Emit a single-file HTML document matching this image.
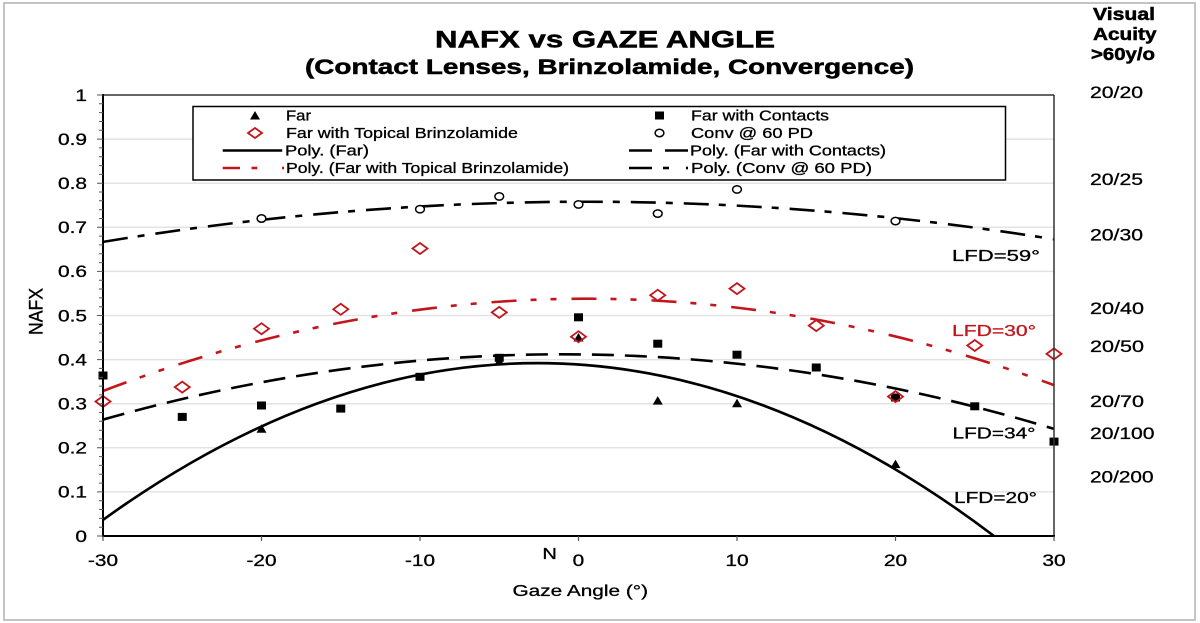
<!DOCTYPE html>
<html>
<head>
<meta charset="utf-8">
<style>
  html, body { margin:0; padding:0; background:#fff; }
  svg { display:block; }
  text { font-family: "Liberation Sans", Arial, sans-serif; fill:#000; stroke:#000; stroke-width:0.3px; }
  text.b { stroke-width:0.5px; }
  text.red { fill:#c3161c; stroke:#c3161c; }
</style>
</head>
<body>
<svg width="1200" height="623" viewBox="0 0 1200 623" xmlns="http://www.w3.org/2000/svg">
  <rect x="0" y="0" width="1200" height="623" fill="#fff"/>
  <!-- outer frame -->
  <rect x="4" y="3" width="1191" height="617" fill="none" stroke="#c4c4c4" stroke-width="2"/>

  <!-- Title -->
  <text class="b" x="435" y="47.5" font-size="24" font-weight="bold" textLength="340" lengthAdjust="spacingAndGlyphs">NAFX vs GAZE ANGLE</text>
  <text class="b" x="305" y="74" font-size="21.5" font-weight="bold" textLength="609" lengthAdjust="spacingAndGlyphs">(Contact Lenses, Brinzolamide, Convergence)</text>

  <!-- Visual acuity header -->
  <text class="b" x="1093" y="20" font-size="17.5" font-weight="bold" textLength="62" lengthAdjust="spacingAndGlyphs">Visual</text>
  <text class="b" x="1093" y="40" font-size="17.5" font-weight="bold" textLength="63.5" lengthAdjust="spacingAndGlyphs">Acuity</text>
  <text class="b" x="1091" y="60" font-size="17.5" font-weight="bold" textLength="64" lengthAdjust="spacingAndGlyphs">&gt;60y/o</text>

  <!-- right acuity labels -->
  <g font-size="17">
    <text x="1090" y="98" textLength="53" lengthAdjust="spacingAndGlyphs">20/20</text>
    <text x="1090" y="185" textLength="53" lengthAdjust="spacingAndGlyphs">20/25</text>
    <text x="1090" y="240.5" textLength="53" lengthAdjust="spacingAndGlyphs">20/30</text>
    <text x="1090" y="314" textLength="54" lengthAdjust="spacingAndGlyphs">20/40</text>
    <text x="1090" y="352" textLength="54" lengthAdjust="spacingAndGlyphs">20/50</text>
    <text x="1090" y="407" textLength="54" lengthAdjust="spacingAndGlyphs">20/70</text>
    <text x="1090" y="439" textLength="64.5" lengthAdjust="spacingAndGlyphs">20/100</text>
    <text x="1090" y="482.5" textLength="63.5" lengthAdjust="spacingAndGlyphs">20/200</text>
  </g>

  <!-- gridlines -->
  <g stroke="#e3e3e3" stroke-width="1.5">
    <line x1="103" x2="1054" y1="491.9" y2="491.9"/>
    <line x1="103" x2="1054" y1="447.8" y2="447.8"/>
    <line x1="103" x2="1054" y1="403.7" y2="403.7"/>
    <line x1="103" x2="1054" y1="359.6" y2="359.6"/>
    <line x1="103" x2="1054" y1="315.5" y2="315.5"/>
    <line x1="103" x2="1054" y1="271.4" y2="271.4"/>
    <line x1="103" x2="1054" y1="227.3" y2="227.3"/>
    <line x1="103" x2="1054" y1="183.2" y2="183.2"/>
    <line x1="103" x2="1054" y1="139.1" y2="139.1"/>
  </g>

  <defs>
    <clipPath id="plot"><rect x="103" y="95" width="951" height="441"/></clipPath>
  </defs>

  <!-- trend curves -->
  <g clip-path="url(#plot)" fill="none" stroke-width="2.6">
    <path d="M103,241.9 Q578.5,162.9 1054,239.3" stroke="#000" stroke-dasharray="25 10 7 11"/>
    <path d="M103,391 Q578.5,209.4 1054,385.1" stroke="#c3161c" stroke-dasharray="25 14 6 14 6 15"/>
    <path d="M103,419.6 Q578.5,284.5 1054,428.9" stroke="#000" stroke-dasharray="22 11"/>
    <path d="M103,519.9 Q548.5,198.5 994,536" stroke="#000"/>
  </g>

  <!-- Far with Contacts squares -->
  <g fill="#000">
    <rect x="98.5" y="371.5" width="9" height="8"/>
    <rect x="177.75" y="412.9" width="9" height="8"/>
    <rect x="257" y="401.5" width="9" height="8"/>
    <rect x="336.25" y="404.6" width="9" height="8"/>
    <rect x="415.5" y="372.8" width="9" height="8"/>
    <rect x="494.75" y="353.8" width="9" height="8"/>
    <rect x="574" y="313.3" width="9" height="8"/>
    <rect x="653.25" y="339.7" width="9" height="8"/>
    <rect x="732.5" y="350.7" width="9" height="8"/>
    <rect x="811.75" y="363.5" width="9" height="8"/>
    <rect x="891" y="393.5" width="9" height="8"/>
    <rect x="970.25" y="402.3" width="9" height="8"/>
    <rect x="1049.5" y="437.6" width="9" height="8"/>
  </g>

  <!-- Far triangles -->
  <g fill="#000">
    <polygon points="256.5,432.8 266.5,432.8 261.5,424.3"/>
    <polygon points="494.25,365.4 504.25,365.4 499.25,356.9"/>
    <polygon points="573.5,341.5 583.5,341.5 578.5,333"/>
    <polygon points="652.75,404.6 662.75,404.6 657.75,396.1"/>
    <polygon points="732,407.3 742,407.3 737,398.8"/>
    <polygon points="890.5,468.1 900.5,468.1 895.5,459.6"/>
  </g>

  <!-- Brinzolamide diamonds -->
  <g fill="none" stroke="#c3161c" stroke-width="1.8">
    <polygon points="95.5,401.5 103,396 110.5,401.5 103,407"/>
    <polygon points="174.75,387.1 182.25,381.6 189.75,387.1 182.25,392.6"/>
    <polygon points="254,328.7 261.5,323.2 269,328.7 261.5,334.2"/>
    <polygon points="333.25,309.3 340.75,303.8 348.25,309.3 340.75,314.8"/>
    <polygon points="412.5,248.5 420,243 427.5,248.5 420,254"/>
    <polygon points="491.75,312.4 499.25,306.9 506.75,312.4 499.25,317.9"/>
    <polygon points="571,336.7 578.5,331.2 586,336.7 578.5,342.2"/>
    <polygon points="650.25,295.2 657.75,289.7 665.25,295.2 657.75,300.7"/>
    <polygon points="729.5,288.6 737,283.1 744.5,288.6 737,294.1"/>
    <polygon points="808.75,325.6 816.25,320.1 823.75,325.6 816.25,331.1"/>
    <polygon points="888,396.6 895.5,391.1 903,396.6 895.5,402.1"/>
    <polygon points="967.25,345.5 974.75,340 982.25,345.5 974.75,351"/>
    <polygon points="1046.5,353.9 1054,348.4 1061.5,353.9 1054,359.4"/>
  </g>

  <!-- Conv circles -->
  <g fill="#fff" stroke="#000" stroke-width="1.5">
    <ellipse cx="261.5" cy="218.5" rx="4.4" ry="3.7"/>
    <ellipse cx="420" cy="209.2" rx="4.4" ry="3.7"/>
    <ellipse cx="499.25" cy="196.4" rx="4.4" ry="3.7"/>
    <ellipse cx="578.5" cy="204.4" rx="4.4" ry="3.7"/>
    <ellipse cx="657.75" cy="213.6" rx="4.4" ry="3.7"/>
    <ellipse cx="737" cy="189.4" rx="4.4" ry="3.7"/>
    <ellipse cx="895.5" cy="221.1" rx="4.4" ry="3.7"/>
  </g>

  <!-- LFD labels -->
  <g font-size="16">
    <text x="952" y="261" textLength="88" lengthAdjust="spacingAndGlyphs">LFD=59°</text>
    <text class="red" x="952" y="336" textLength="84" lengthAdjust="spacingAndGlyphs">LFD=30°</text>
    <text x="952.5" y="438.5" textLength="83" lengthAdjust="spacingAndGlyphs">LFD=34°</text>
    <text x="954" y="503" textLength="83" lengthAdjust="spacingAndGlyphs">LFD=20°</text>
  </g>

  <!-- Legend -->
  <rect x="193" y="106.5" width="812.5" height="73.5" fill="#fff" stroke="#000" stroke-width="1.5"/>
  <g font-size="14.5">
    <polygon points="250,119.5 260,119.5 255,111" fill="#000"/>
    <text x="286" y="120.5" textLength="25" lengthAdjust="spacingAndGlyphs">Far</text>
    <polygon points="248,133 255,128 262,133 255,138" fill="none" stroke="#c3161c" stroke-width="1.8"/>
    <text x="286" y="138" textLength="232" lengthAdjust="spacingAndGlyphs">Far with Topical Brinzolamide</text>
    <line x1="222.7" x2="282.2" y1="150.5" y2="150.5" stroke="#000" stroke-width="2.6"/>
    <text x="285" y="155.5" textLength="84" lengthAdjust="spacingAndGlyphs">Poly. (Far)</text>
    <g stroke="#c3161c" stroke-width="2.6">
      <line x1="222.7" x2="240" y1="168" y2="168"/>
      <line x1="251.5" x2="257.3" y1="168" y2="168"/>
      <line x1="282" x2="284" y1="168" y2="168"/>
    </g>
    <text x="286" y="173" textLength="283" lengthAdjust="spacingAndGlyphs">Poly. (Far with Topical Brinzolamide)</text>

    <rect x="655" y="111.5" width="9" height="8" fill="#000"/>
    <text x="691" y="120.5" textLength="138" lengthAdjust="spacingAndGlyphs">Far with Contacts</text>
    <ellipse cx="659.5" cy="133" rx="4.4" ry="3.7" fill="#fff" stroke="#000" stroke-width="1.5"/>
    <text x="691" y="138" textLength="122" lengthAdjust="spacingAndGlyphs">Conv @ 60 PD</text>
    <g stroke="#000" stroke-width="2.6">
      <line x1="629" x2="652" y1="150.5" y2="150.5"/>
      <line x1="665" x2="688" y1="150.5" y2="150.5"/>
    </g>
    <text x="690" y="155.5" textLength="196" lengthAdjust="spacingAndGlyphs">Poly. (Far with Contacts)</text>
    <g stroke="#000" stroke-width="2.6">
      <line x1="629" x2="652" y1="168" y2="168"/>
      <line x1="663" x2="669" y1="168" y2="168"/>
      <line x1="686" x2="688" y1="168" y2="168"/>
    </g>
    <text x="691" y="173" textLength="181" lengthAdjust="spacingAndGlyphs">Poly. (Conv @ 60 PD)</text>
  </g>

  <!-- plot frame: top & right -->
  <line x1="103" y1="95" x2="1054" y2="95" stroke="#333" stroke-width="1.5"/>
  <line x1="1054" y1="95" x2="1054" y2="536" stroke="#333" stroke-width="1.5"/>
  <!-- axes -->
  <line x1="103" y1="94" x2="103" y2="537" stroke="#000" stroke-width="2"/>
  <line x1="102" y1="536" x2="1055" y2="536" stroke="#000" stroke-width="2"/>

  <!-- y ticks -->
  <g stroke="#555" stroke-width="1">
    <path d="M97,536H103 M97,491.9H103 M97,447.8H103 M97,403.7H103 M97,359.6H103 M97,315.5H103 M97,271.4H103 M97,227.3H103 M97,183.2H103 M97,139.1H103 M97,95H103"/>
    <path d="M99,527.2H103 M99,518.4H103 M99,509.5H103 M99,500.7H103 M99,483.1H103 M99,474.3H103 M99,465.4H103 M99,456.6H103 M99,439H103 M99,430.2H103 M99,421.3H103 M99,412.5H103 M99,394.9H103 M99,386.1H103 M99,377.2H103 M99,368.4H103 M99,350.8H103 M99,342H103 M99,333.1H103 M99,324.3H103 M99,306.7H103 M99,297.9H103 M99,289H103 M99,280.2H103 M99,262.6H103 M99,253.8H103 M99,244.9H103 M99,236.1H103 M99,218.5H103 M99,209.7H103 M99,200.8H103 M99,192H103 M99,174.4H103 M99,165.6H103 M99,156.7H103 M99,147.9H103 M99,130.3H103 M99,121.5H103 M99,112.6H103 M99,103.8H103"/>
  </g>
  <!-- x ticks -->
  <g stroke="#555" stroke-width="1.2">
    <path d="M103,536V541 M261.5,536V541 M420,536V541 M578.5,536V541 M737,536V541 M895.5,536V541 M1054,536V541"/>
  </g>

  <!-- y tick labels -->
  <g font-size="16.2" text-anchor="end">
    <text x="87" y="541.8" textLength="11.6" lengthAdjust="spacingAndGlyphs">0</text>
    <text x="87" y="497.7" textLength="29" lengthAdjust="spacingAndGlyphs">0.1</text>
    <text x="87" y="453.6" textLength="29" lengthAdjust="spacingAndGlyphs">0.2</text>
    <text x="87" y="409.5" textLength="29" lengthAdjust="spacingAndGlyphs">0.3</text>
    <text x="87" y="365.4" textLength="29" lengthAdjust="spacingAndGlyphs">0.4</text>
    <text x="87" y="321.3" textLength="29" lengthAdjust="spacingAndGlyphs">0.5</text>
    <text x="87" y="277.2" textLength="29" lengthAdjust="spacingAndGlyphs">0.6</text>
    <text x="87" y="233.1" textLength="29" lengthAdjust="spacingAndGlyphs">0.7</text>
    <text x="87" y="189" textLength="29" lengthAdjust="spacingAndGlyphs">0.8</text>
    <text x="87" y="144.9" textLength="29" lengthAdjust="spacingAndGlyphs">0.9</text>
    <text x="87" y="100.8" textLength="11.6" lengthAdjust="spacingAndGlyphs">1</text>
  </g>

  <!-- x tick labels -->
  <g font-size="16.2" text-anchor="middle">
    <text x="103" y="566" textLength="30" lengthAdjust="spacingAndGlyphs">-30</text>
    <text x="261.5" y="566" textLength="30" lengthAdjust="spacingAndGlyphs">-20</text>
    <text x="420" y="566" textLength="30" lengthAdjust="spacingAndGlyphs">-10</text>
    <text x="578.5" y="566" textLength="11.6" lengthAdjust="spacingAndGlyphs">0</text>
    <text x="737" y="566" textLength="23.3" lengthAdjust="spacingAndGlyphs">10</text>
    <text x="895.5" y="566" textLength="23.3" lengthAdjust="spacingAndGlyphs">20</text>
    <text x="1054" y="566" textLength="23.3" lengthAdjust="spacingAndGlyphs">30</text>
  </g>
  <text x="549.7" y="559" font-size="16" text-anchor="middle" textLength="14.5" lengthAdjust="spacingAndGlyphs">N</text>

  <!-- axis titles -->
  <text x="512.5" y="596" font-size="16" textLength="135.5" lengthAdjust="spacingAndGlyphs">Gaze Angle (°)</text>
  <text transform="translate(42.5,311.5) rotate(-90) scale(1,1.2)" x="0" y="0" font-size="16.5" text-anchor="middle" textLength="47" lengthAdjust="spacingAndGlyphs">NAFX</text>
</svg>
</body>
</html>
